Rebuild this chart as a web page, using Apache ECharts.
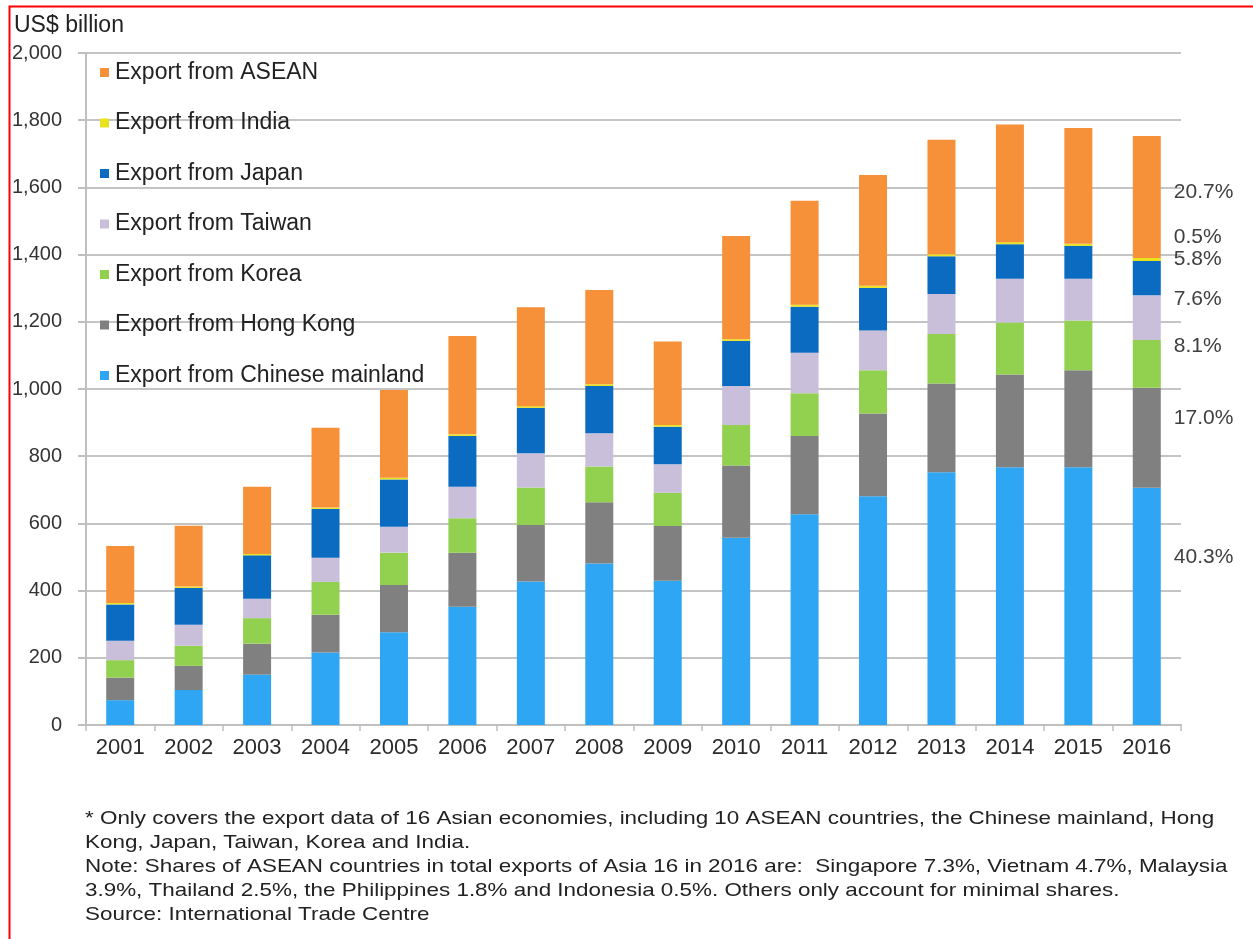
<!DOCTYPE html>
<html>
<head>
<meta charset="utf-8">
<script src="https://cdn.jsdelivr.net/npm/echarts@6/dist/echarts.min.js"></script>
<style>
html,body{margin:0;padding:0;background:#fff;}
#chart{width:1253px;height:939px;}
</style>
</head>
<body>
<div id="chart"></div>
<script>
// ---- data ----
var years = ['2001','2002','2003','2004','2005','2006','2007','2008','2009','2010','2011','2012','2013','2014','2015','2016'];
var chineseMainland = [74,104,150,216,276,352,427,481,429,557,627,681,752,767,767,706];
var hongKong        = [67,72,92,112,141,161,168,182,163,215,233,246,264,276,289,298];
var korea           = [52,60,76,98,96,102,112,106,99,121,127,129,148,155,148,142];
var taiwan          = [58,62,58,72,77,94,102,99,85,116,121,118,119,130,124,133];
var japan           = [108,110,129,145,141,151,135,141,112,134,137,127,112,103,98,102];
var india           = [4,4,4,4,5,5,5,5,5,5,6,6,6,6,6,9];
var asean           = [170,181,200,238,261,293,294,281,248,307,309,330,341,350,345,363];
var seriesNames = ['Export from Chinese mainland','Export from Hong Kong','Export from Korea','Export from Taiwan','Export from Japan','Export from India','Export from ASEAN'];
var shares2016  = ['40.3%','17.0%','8.1%','7.6%','5.8%','0.5%','20.7%'];
var footnotes = [
  '* Only covers the export data of 16 Asian economies, including 10 ASEAN countries, the Chinese mainland, Hong',
  'Kong, Japan, Taiwan, Korea and India.',
  'Note: Shares of ASEAN countries in total exports of Asia 16 in 2016 are:  Singapore 7.3%, Vietnam 4.7%, Malaysia',
  '3.9%, Thailand 2.5%, the Philippines 1.8% and Indonesia 0.5%. Others only account for minimal shares.',
  'Source: International Trade Centre'
];

// ---- styles ----
var colors = ['#2EA6F4','#808080','#92D050','#C9BFDB','#0B6BC0','#E9E21F','#F79139'];
var labelOffsets = [[8,-49],[8,-20],[8,-18],[8,-18],[8,-19],[8,-22],[8,-5]];
var FONT = '"Liberation Sans", Arial, sans-serif';

var valueSets = [chineseMainland, hongKong, korea, taiwan, japan, india, asean];
var series = valueSets.map(function (vals, i) {
  var last = vals.length - 1;
  return {
    name: seriesNames[i],
    type: 'bar',
    stack: 'total',
    barWidth: 28,
    itemStyle: { color: colors[i] },
    data: vals.map(function (v, j) {
      if (j !== last) return v;
      return {
        value: v,
        label: {
          show: true, position: 'right', offset: labelOffsets[i],
          formatter: shares2016[i], color: '#404040', fontSize: 21, fontFamily: FONT
        }
      };
    })
  };
});

var chart = echarts.init(document.getElementById('chart'), null, { renderer: 'canvas' });
chart.setOption({
  backgroundColor: '#fff',
  animation: false,
  color: colors,
  grid: { left: 86, right: 72, top: 53, bottom: 214, containLabel: false },
  legend: {
    orient: 'vertical', left: 95, top: 56,
    itemWidth: 9, itemHeight: 9, itemGap: 27.5,
    data: seriesNames.slice().reverse(),
    icon: 'rect',
    textStyle: { fontSize: 23, color: '#222', fontFamily: FONT, padding: [0,0,0,1] }
  },
  xAxis: {
    type: 'category', data: years,
    axisLine: { lineStyle: { color: '#BFBFBF', width: 2 } },
    axisTick: { show: true, length: 6, lineStyle: { color: '#BFBFBF', width: 1.5 } },
    axisLabel: { fontSize: 22, color: '#2a2a2a', margin: 12, fontFamily: FONT }
  },
  yAxis: {
    type: 'value', min: 0, max: 2000, interval: 200,
    axisLine: { show: true, lineStyle: { color: '#BFBFBF', width: 2 } },
    axisTick: { show: true, length: 8, lineStyle: { color: '#BFBFBF', width: 2 } },
    splitLine: { lineStyle: { color: '#C4C4C4', width: 2 } },
    axisLabel: {
      fontSize: 20, color: '#333', margin: 24, fontFamily: FONT,
      formatter: function (v) { return v.toLocaleString('en-US'); }
    }
  },
  graphic: [
    { type: 'rect', left: 7, top: 4, shape: { width: 1260, height: 950 },
      style: { fill: 'none', stroke: '#FF0000', lineWidth: 2 }, silent: true },
    { type: 'text', left: 14, top: 14,
      style: { text: 'US$ billion', font: '23px ' + FONT, fill: '#222' } }
  ].concat(footnotes.map(function (t, k) {
    return { type: 'text', x: 85, y: 809 + k * 24, scaleX: 1.18,
      style: { text: t, font: '19px ' + FONT, fill: '#222' } };
  })),
  series: series
});
</script>
</body>
</html>
